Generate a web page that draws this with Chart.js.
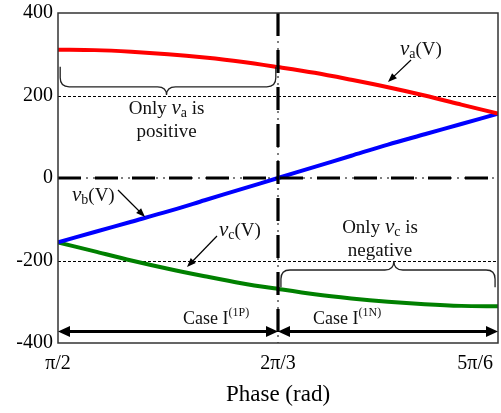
<!DOCTYPE html>
<html>
<head>
<meta charset="utf-8">
<script src="https://cdn.jsdelivr.net/npm/chart.js@4.4.1/dist/chart.umd.min.js"></script>
<style>
  body { margin: 0; background: #fff; }
  #wrap { width: 501px; height: 413px; }
</style>
</head>
<body>
<div id="wrap"><canvas id="chart"></canvas></div>
<script>
// phase in degrees (90 = pi/2 ... 150 = 5pi/6)
const phaseDeg = [90, 95, 100, 105, 110, 115, 120, 125, 130, 135, 140, 145, 150];
const va = [311, 310, 306, 300, 292, 282, 269, 255, 238, 220, 200, 178, 156];
const vb = [-156, -131, -106, -81, -54, -27, 0, 27, 54, 81, 106, 131, 156];
const vc = [-156, -178, -200, -220, -238, -255, -269, -282, -292, -300, -306, -310, -311];
const xTickValues = [90, 120, 150];
const xTickLabels = ["π/2", "2π/3", "5π/6"];
const yTicks = [-400, -200, 0, 200, 400];

const SERIF = '"Liberation Serif", "DejaVu Serif", serif';

const toPoints = (ys) => ys.map((y, i) => ({ x: phaseDeg[i], y: y }));

// draw a line of text made of several runs (regular / italic / subscript)
const drawRuns = (ctx, runs, x, y, align) => {
  let total = 0;
  runs.forEach((r) => {
    ctx.font = r.font;
    r.w = ctx.measureText(r.t).width;
    total += r.w;
  });
  let cx = align === "center" ? x - total / 2 : x;
  ctx.textAlign = "left";
  ctx.textBaseline = "alphabetic";
  runs.forEach((r) => {
    ctx.font = r.font;
    ctx.fillText(r.t, cx, y + (r.dy || 0));
    cx += r.w;
  });
};

const reg = (s) => s + "px " + SERIF;
const ital = (s) => "italic " + s + "px " + SERIF;

const arrowHead = (ctx, x1, y1, x2, y2, len, half) => {
  const a = Math.atan2(y2 - y1, x2 - x1);
  ctx.beginPath();
  ctx.moveTo(x2, y2);
  ctx.lineTo(x2 - len * Math.cos(a) + half * Math.sin(a), y2 - len * Math.sin(a) - half * Math.cos(a));
  ctx.lineTo(x2 - len * Math.cos(a) - half * Math.sin(a), y2 - len * Math.sin(a) + half * Math.cos(a));
  ctx.closePath();
  ctx.fill();
};

const arrow = (ctx, x1, y1, x2, y2, width, len, half) => {
  const a = Math.atan2(y2 - y1, x2 - x1);
  ctx.lineWidth = width;
  ctx.beginPath();
  ctx.moveTo(x1, y1);
  ctx.lineTo(x2 - len * 0.7 * Math.cos(a), y2 - len * 0.7 * Math.sin(a));
  ctx.stroke();
  arrowHead(ctx, x1, y1, x2, y2, len, half);
};

// curly brace along a horizontal line, ends bent towards yEnd, tip at yTip
const brace = (ctx, x1, x2, xt, yLine, yEnd, yTip, r) => {
  const d = yEnd < yLine ? -1 : 1;
  ctx.beginPath();
  ctx.moveTo(x1, yEnd);
  ctx.lineTo(x1, yLine + d * r);
  ctx.quadraticCurveTo(x1, yLine, x1 + r, yLine);
  ctx.lineTo(xt - r, yLine);
  ctx.quadraticCurveTo(xt, yLine, xt, yTip);
  ctx.quadraticCurveTo(xt, yLine, xt + r, yLine);
  ctx.lineTo(x2 - r, yLine);
  ctx.quadraticCurveTo(x2, yLine, x2, yLine + d * r);
  ctx.lineTo(x2, yEnd);
  ctx.stroke();
};

const refLines = {
  id: "refLines",
  beforeDatasetsDraw(chart) {
    const { ctx, chartArea: a, scales: { y } } = chart;
    ctx.save();
    ctx.strokeStyle = "#000";
    ctx.lineWidth = 1;
    ctx.setLineDash([3, 2]);
    [200, -200].forEach((v) => {
      const py = Math.round(y.getPixelForValue(v)) + 0.5;
      ctx.beginPath();
      ctx.moveTo(a.left, py);
      ctx.lineTo(a.right, py);
      ctx.stroke();
    });
    ctx.restore();
  },
  afterDatasetsDraw(chart) {
    const { ctx, chartArea: a, scales: { x, y } } = chart;
    const X = (v) => x.getPixelForValue(v);
    const Y = (v) => y.getPixelForValue(v);
    ctx.save();
    ctx.strokeStyle = "#000";
    ctx.fillStyle = "#000";

    // zero line and 2pi/3 line: thin dash-dot plus thick dashes
    const y0 = Y(0);
    const x0 = X(120);
    ctx.lineWidth = 1;
    ctx.setLineDash([2, 5]);
    ctx.beginPath();
    ctx.moveTo(a.left, y0); ctx.lineTo(a.right, y0);
    ctx.moveTo(x0, a.top); ctx.lineTo(x0, a.bottom);
    ctx.stroke();
    ctx.lineWidth = 3.2;
    ctx.setLineDash([23, 14]);
    ctx.beginPath();
    ctx.moveTo(a.left, y0); ctx.lineTo(a.right, y0);
    ctx.moveTo(x0, a.top); ctx.lineTo(x0, a.bottom);
    ctx.stroke();
    ctx.setLineDash([]);

    // frame
    ctx.strokeStyle = "#333";
    ctx.lineWidth = 1.5;
    ctx.strokeRect(a.left, a.top, a.right - a.left, a.bottom - a.top);

    // braces
    ctx.strokeStyle = "#222";
    ctx.lineWidth = 1.3;
    brace(ctx, X(90.3), X(119.7), X(104.8), Y(221), Y(270), Y(201), 9);
    brace(ctx, X(120.4), X(149.6), X(135.8), Y(-223), Y(-265), Y(-201), 9);

    // case arrows
    ctx.strokeStyle = "#000";
    const ya = Y(-372);
    [[90, 120], [120, 150]].forEach(([s, e]) => {
      const xs = X(s), xe = X(e), xm = (xs + xe) / 2;
      arrow(ctx, xm, ya, xs, ya, 3, 12, 5.5);
      arrow(ctx, xm, ya, xe, ya, 3, 12, 5.5);
    });

    // label arrows
    arrow(ctx, 411, 60, 388, 82, 1.2, 9, 3.5);
    arrow(ctx, 118, 190, 145, 217, 1.2, 9, 3.5);
    arrow(ctx, 217, 236, 187, 267, 1.2, 9, 3.5);

    // texts
    ctx.fillStyle = "#111";
    drawRuns(ctx, [{ t: "v", font: ital(21) }, { t: "a", font: reg(14), dy: 3 }, { t: "(V)", font: reg(19) }], 400, 55, "left");
    drawRuns(ctx, [{ t: "v", font: ital(21) }, { t: "b", font: reg(14), dy: 3 }, { t: "(V)", font: reg(19) }], 72, 201, "left");
    drawRuns(ctx, [{ t: "v", font: ital(21) }, { t: "c", font: reg(14), dy: 3 }, { t: "(V)", font: reg(19) }], 219, 236, "left");

    drawRuns(ctx, [{ t: "Only ", font: reg(19) }, { t: "v", font: ital(21) }, { t: "a", font: reg(14), dy: 3 }, { t: " is", font: reg(19) }], X(104.8), 114, "center");
    drawRuns(ctx, [{ t: "positive", font: reg(19) }], X(104.8), 137, "center");
    drawRuns(ctx, [{ t: "Only ", font: reg(19) }, { t: "v", font: ital(21) }, { t: "c", font: reg(14), dy: 3 }, { t: " is", font: reg(19) }], 380, 233, "center");
    drawRuns(ctx, [{ t: "negative", font: reg(19) }], 380, 256, "center");

    drawRuns(ctx, [{ t: "Case I", font: reg(18) }, { t: "(1P)", font: reg(12), dy: -8 }], 183, 324, "left");
    drawRuns(ctx, [{ t: "Case I", font: reg(18) }, { t: "(1N)", font: reg(12), dy: -8 }], 313, 324, "left");

    // x tick labels
    ctx.fillStyle = "#000";
    ctx.font = reg(20);
    ctx.textBaseline = "middle";
    xTickValues.forEach((v, i) => {
      const last = i === xTickValues.length - 1;
      ctx.textAlign = last ? "right" : "center";
      ctx.fillText(xTickLabels[i], last ? X(v) - 5 : X(v), a.bottom + 21);
    });
    ctx.restore();
  },
};

new Chart(document.getElementById("chart"), {
  type: "line",
  data: {
    datasets: [
      { label: "va", data: toPoints(va), borderColor: "#ff0000", borderWidth: 4 },
      { label: "vb", data: toPoints(vb), borderColor: "#0000ff", borderWidth: 4 },
      { label: "vc", data: toPoints(vc), borderColor: "#008000", borderWidth: 4 },
    ],
  },
  options: {
    responsive: true,
    maintainAspectRatio: false,
    animation: false,
    devicePixelRatio: 1,
    layout: { padding: { left: 0, right: 3, top: 13, bottom: 0 } },
    elements: { point: { radius: 0 }, line: { tension: 0.3 } },
    plugins: { legend: { display: false }, tooltip: { enabled: false } },
    scales: {
      x: {
        type: "linear",
        min: 90,
        max: 150,
        grid: { display: false },
        border: { display: false },
        afterBuildTicks: (s) => { s.ticks = xTickValues.map((v) => ({ value: v })); },
        ticks: { display: false },
        title: { display: true, text: "Phase (rad)", color: "#000", font: { family: SERIF, size: 23 }, padding: { top: 0, bottom: 4 } },
        afterFit: (s) => { s.height = 70; },
      },
      y: {
        min: -400,
        max: 400,
        grid: { display: false, drawTicks: false },
        border: { display: false },
        afterBuildTicks: (s) => { s.ticks = yTicks.map((v) => ({ value: v })); },
        ticks: { color: "#000", padding: 5, font: { family: SERIF, size: 20 }, callback: (v) => String(v) },
        afterFit: (s) => { s.width = 58; s.paddingTop = 0; s.paddingBottom = 0; },
      },
    },
  },
  plugins: [refLines],
});
</script>
</body>
</html>
